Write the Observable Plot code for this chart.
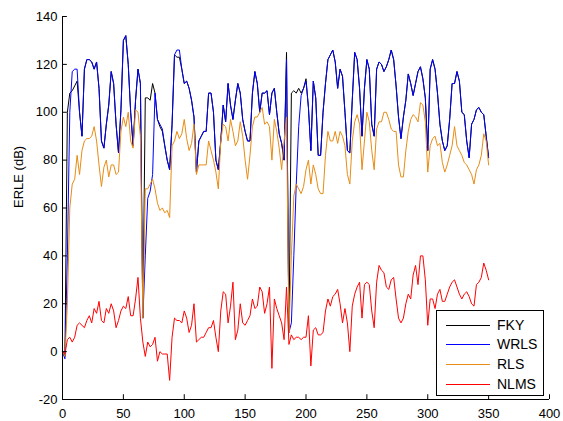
<!DOCTYPE html>
<html>
<head>
<meta charset="utf-8">
<script src="https://cdn.jsdelivr.net/npm/d3@7"></script>
<script src="https://cdn.jsdelivr.net/npm/@observablehq/plot@0.6"></script>
<style>
  body { margin: 0; background: #fff; }
  #wrap { position: relative; width: 563px; height: 421px; font-family: "Liberation Sans", Arial, Helvetica, sans-serif; }
  #legend { position: absolute; left: 436px; top: 310px; width: 108px; height: 86px; border: 1px solid #000; background: #fff; box-sizing: border-box; }
  .row { position: absolute; left: 0; height: 0; }
  .sw { position: absolute; left: 9px; width: 44px; height: 0; border-top: 1px solid; }
  .lab { position: absolute; left: 60px; font-size: 14px; line-height: 14px; transform: translateY(-7px); white-space: nowrap; color: #000; }
</style>
</head>
<body>
<div id="wrap"></div>
<script>
// ---- data ----
const seriesNames = ["FKY", "WRLS", "RLS", "NLMS"];
const seriesColors = ["#000000", "#0000ff", "#e88c14", "#ff0000"];
const xTicks = [0, 50, 100, 150, 200, 250, 300, 350, 400];
const yTicks = [-20, 0, 20, 40, 60, 80, 100, 120, 140];
const yLabel = "ERLE (dB)";
// samples every 2 units from 0 to 350
const sampleX = d3.range(0, 351, 2);

const fky = [
  0, -2, 100, 108, 109, 111, 113, 100, 90, 118,
  122, 122, 121, 118, 121, 110, 88, 85, 95, 103,
  117, 112, 95, 83, 101, 130, 132, 120, 100, 86,
  105, 118, 112, 14, 106, 106, 105, 112, 108, 97,
  94, 92, 86, 80, 76, 95, 124, 123, 123, 118,
  112, 113, 110, 105, 98, 75, 88, 90, 92, 92,
  108, 108, 100, 80, 76, 88, 103, 96, 112, 103,
  97, 105, 112, 108, 97, 92, 88, 88, 108, 117,
  112, 100, 108, 108, 109, 99, 108, 110, 100, 91,
  87, 80, 125, 8, 108, 109, 108, 110, 108, 110,
  114, 102, 84, 113, 106, 82, 82, 100, 112, 122,
  124, 126, 121, 110, 118, 115, 100, 84, 83, 105,
  125, 122, 110, 90, 110, 122, 118, 95, 90, 118,
  121, 120, 117, 119, 122, 126, 122, 111, 98, 89,
  98, 105, 116, 112, 107, 112, 117, 119, 114, 106,
  84, 118, 122, 118, 108, 95, 88, 84, 86, 97,
  112, 112, 117, 113, 100, 99, 88, 81, 95, 97,
  101, 102, 100, 99, 90, 81
];
const wrls = [
  0, -3, 40, 100, 117, 118, 118, 100, 90, 118,
  122, 122, 121, 118, 121, 110, 88, 85, 95, 103,
  117, 112, 95, 83, 101, 130, 132, 120, 100, 86,
  105, 118, 112, 14, 40, 64, 67, 74, 108, 97,
  95, 93, 86, 80, 76, 95, 124, 126, 126, 118,
  112, 113, 110, 105, 98, 75, 88, 90, 92, 92,
  108, 108, 100, 80, 76, 88, 103, 96, 112, 103,
  97, 105, 112, 108, 97, 92, 88, 88, 108, 117,
  112, 100, 108, 108, 109, 99, 108, 110, 100, 91,
  87, 80, 122, 8, 12, 40, 70, 94, 107, 110,
  113, 102, 84, 113, 106, 82, 82, 100, 112, 122,
  124, 126, 121, 110, 118, 115, 100, 84, 83, 105,
  125, 122, 110, 90, 110, 122, 118, 95, 90, 118,
  121, 120, 117, 119, 122, 126, 122, 111, 98, 89,
  98, 105, 116, 112, 107, 112, 117, 119, 114, 106,
  84, 118, 122, 118, 108, 95, 88, 84, 86, 97,
  112, 112, 117, 113, 100, 99, 88, 81, 95, 97,
  101, 102, 100, 99, 90, 81
];
const rls = [
  0, -2, 20, 60, 70, 72, 82, 74, 84, 88,
  89, 89, 90, 94, 88, 78, 69, 77, 80, 73,
  78, 78, 74, 75, 92, 98, 94, 100, 88, 85,
  101, 100, 90, 14, 68, 68, 70, 72, 68, 62,
  59, 60, 58, 59, 56, 86, 88, 92, 89, 91,
  97, 89, 84, 87, 95, 74, 78, 78, 78, 78,
  88, 84, 80, 75, 68, 88, 95, 94, 88, 97,
  92, 86, 88, 96, 90, 80, 72, 82, 94, 98,
  98, 100, 102, 95, 96, 94, 80, 97, 92, 85,
  76, 88, 98, 8, 40, 65, 70, 68, 66, 69,
  76, 80, 70, 78, 74, 68, 66, 66, 82, 92,
  88, 88, 92, 87, 92, 90, 86, 74, 70, 88,
  96, 99, 95, 76, 88, 100, 96, 84, 76, 93,
  96, 96, 100, 100, 97, 93, 92, 92, 78, 73,
  73, 84, 92, 97, 99, 98, 96, 104, 103, 96,
  75, 86, 89, 90, 86, 87, 79, 75, 78, 82,
  86, 94, 86, 84, 82, 79, 78, 76, 74, 70,
  76, 78, 82, 91, 88, 78
];
const nlms = [
  0, -1, 5, 6, 4, 6, 11, 12, 11, 10,
  13, 15, 12, 18, 16, 21, 13, 12, 18, 16,
  20, 17, 10, 13, 17, 19, 18, 23, 15, 15,
  22, 31, 14, 4, -2, 4, 2, 3, 6, -4,
  0, -1, -1, -1, -12, 6, 14, 13, 13, 12,
  17, 14, 8, 11, 20, 4, 5, 6, 6, 8,
  10, 10, 13, 6, 0, 17, 25, 24, 12, 19,
  29, 5, 9, 20, 12, 11, 13, 15, 22, 18,
  19, 27, 25, 16, 20, 27, -7, 22, 18, 15,
  12, 5, 27, 3, 7, 5, 6, 6, 5, 6,
  6, 15, -6, 9, 10, 7, 7, 8, 17, 22,
  19, 23, 24, 26, 20, 12, 18, 12, 0, 19,
  24, 27, 29, 14, 28, 29, 28, 17, 10, 29,
  36, 34, 33, 27, 26, 30, 31, 22, 14, 12,
  14, 20, 24, 22, 32, 36, 28, 40, 40, 30,
  11, 22, 22, 18, 24, 26, 21, 21, 24, 27,
  29, 30, 27, 24, 22, 24, 25, 23, 20, 19,
  28, 29, 31, 37, 34, 30
];
const seriesValues = [fky, wrls, rls, nlms];

// ---- build table ----
const table = [];
seriesNames.forEach((name, s) => {
  seriesValues[s].forEach((v, i) => table.push({ x: sampleX[i], y: v, series: name }));
});

const font = '"Liberation Sans", Arial, Helvetica, sans-serif';

const lineMarks = seriesNames.map((name, s) =>
  Plot.line(table.filter(d => d.series === name), {
    x: "x", y: "y", stroke: seriesColors[s], strokeWidth: 1
  })
);

const chart = Plot.plot({
  width: 563,
  height: 421,
  marginLeft: 62,
  marginRight: 14,
  marginTop: 16,
  marginBottom: 22,
  style: { fontFamily: font, fontSize: "13px", background: "#fff", color: "#000" },
  x: { domain: [0, 400], ticks: xTicks, tickSize: 0, tickPadding: 9, tickFormat: d => String(d), label: null },
  y: { domain: [-20, 140], ticks: yTicks, tickSize: 0, tickPadding: 5, tickFormat: d => String(d), label: null },
  marks: [
    ...lineMarks,
    Plot.ruleX([0], { stroke: "#000", strokeWidth: 1 }),
    Plot.ruleY([-20], { stroke: "#000", strokeWidth: 1 }),
    Plot.ruleX(xTicks, { x: d => d, y1: -20, y2: -18, stroke: "#000", strokeWidth: 1 }),
    Plot.ruleY(yTicks, { y: d => d, x1: 0, x2: 4, stroke: "#000", strokeWidth: 1 }),
    Plot.text([yLabel], { frameAnchor: "left", rotate: -90, dx: -43.5, fontSize: 13, fill: "#000" })
  ]
});

const wrap = document.getElementById("wrap");
wrap.appendChild(chart);

// legend
const legend = document.createElement("div");
legend.id = "legend";
seriesNames.forEach((name, s) => {
  const row = document.createElement("div");
  row.className = "row";
  row.style.top = (13.5 + s * 19.8) + "px";
  const sw = document.createElement("div");
  sw.className = "sw";
  sw.style.borderTopColor = seriesColors[s];
  const lab = document.createElement("div");
  lab.className = "lab";
  lab.textContent = name;
  row.appendChild(sw);
  row.appendChild(lab);
  legend.appendChild(row);
});
wrap.appendChild(legend);
</script>
</body>
</html>
